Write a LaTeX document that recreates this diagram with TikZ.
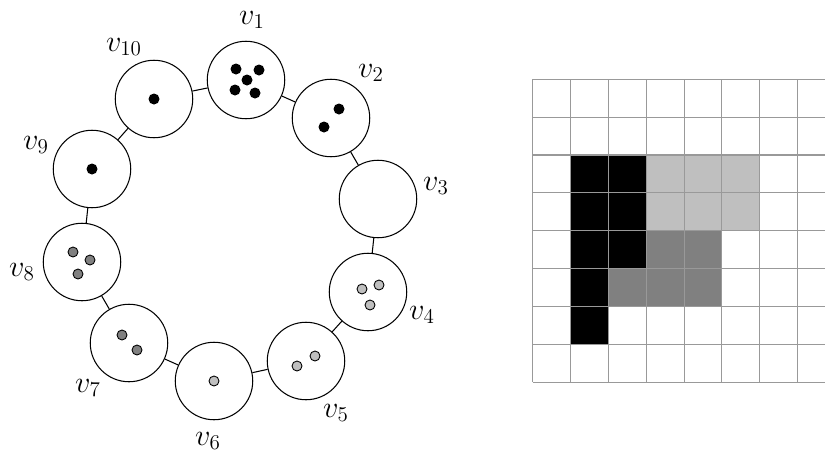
\documentclass[tikz,border=0pt]{standalone}
\usepackage{tikz}
\usetikzlibrary{positioning}

\begin{document}
\begin{tikzpicture}[
    x=0.02cm, y=-0.02cm,
    vertex/.style={draw, circle, minimum size=1.55cm, inner sep=0pt, line width=0.6pt},
    vlabel/.style={font=\LARGE, inner sep=0pt},
    ring/.style={line width=0.6pt},
    token/.style={draw=black, line width=0.5pt},
    gridline/.style={draw=black!40, line width=0.6pt}
]
\useasboundingbox (0,0) rectangle (825,450);

% Vertices
\node[vertex] (v1) at (246,80) {};
\node[vertex] (v2) at (331,118) {};
\node[vertex] (v3) at (378,199) {};
\node[vertex] (v4) at (368,292) {};
\node[vertex] (v5) at (306,361) {};
\node[vertex] (v6) at (214,381) {};
\node[vertex] (v7) at (129,343) {};
\node[vertex] (v8) at (82,262) {};
\node[vertex] (v9) at (92,169) {};
\node[vertex] (v10) at (154,99) {};

% Ring
\foreach \a/\b in {v1/v2,v2/v3,v3/v4,v4/v5,v5/v6,v6/v7,v7/v8,v8/v9,v9/v10,v10/v1} {
    \draw[ring] (\a) -- (\b);
}

% Labels
\node[vlabel] (l1) at (252,20) {$v_1$};
\node[vlabel] (l2) at (371,73) {$v_2$};
\node[vlabel] (l3) at (436,186) {$v_3$};
\node[vlabel] (l4) at (422,315) {$v_4$};
\node[vlabel] (l5) at (336,413) {$v_5$};
\node[vlabel] (l6) at (208,441) {$v_6$};
\node[vlabel] (l7) at (88,388) {$v_7$};
\node[vlabel] (l8) at (22,272) {$v_8$};
\node[vlabel] (l9) at (36,145) {$v_9$};
\node[vlabel] (l10) at (124,47) {$v_{10}$};

% Tokens
\foreach \x/\y in {236/69,259/70,247/80,235/90,255/93,339/109,324/127,92/169,154/99} {
    \fill[black] (\x,\y) circle [radius=0.11cm];
}
\foreach \x/\y in {73/252,90/260,78/274,122/335,137/350} {
    \filldraw[token, fill=black!50] (\x,\y) circle [radius=0.1cm];
}
\foreach \x/\y in {362/289,379/285,370/305,297/366,315/356,214/381} {
    \filldraw[token, fill=black!25] (\x,\y) circle [radius=0.1cm];
}

% Grid cells
\foreach \c/\r in {1/2,1/3,1/4,1/5,1/6,2/2,2/3,2/4} {
    \fill[black] (532.7+37.85*\c,79.3+37.85*\r) rectangle ++(37.85,37.85);
}
\foreach \c/\r in {3/2,4/2,5/2,3/3,4/3,5/3} {
    \fill[black!25] (532.7+37.85*\c,79.3+37.85*\r) rectangle ++(37.85,37.85);
}
\foreach \c/\r in {3/4,4/4,2/5,3/5,4/5} {
    \fill[black!50] (532.7+37.85*\c,79.3+37.85*\r) rectangle ++(37.85,37.85);
}

% Grid lines
\foreach \k in {0,...,7} {
    \draw[gridline] (532.7+37.85*\k,79.3) -- (532.7+37.85*\k,382.1);
}
\foreach \k in {0,...,8} {
    \draw[gridline] (532.7,79.3+37.85*\k) -- (825,79.3+37.85*\k);
}

\end{tikzpicture}
\end{document}
